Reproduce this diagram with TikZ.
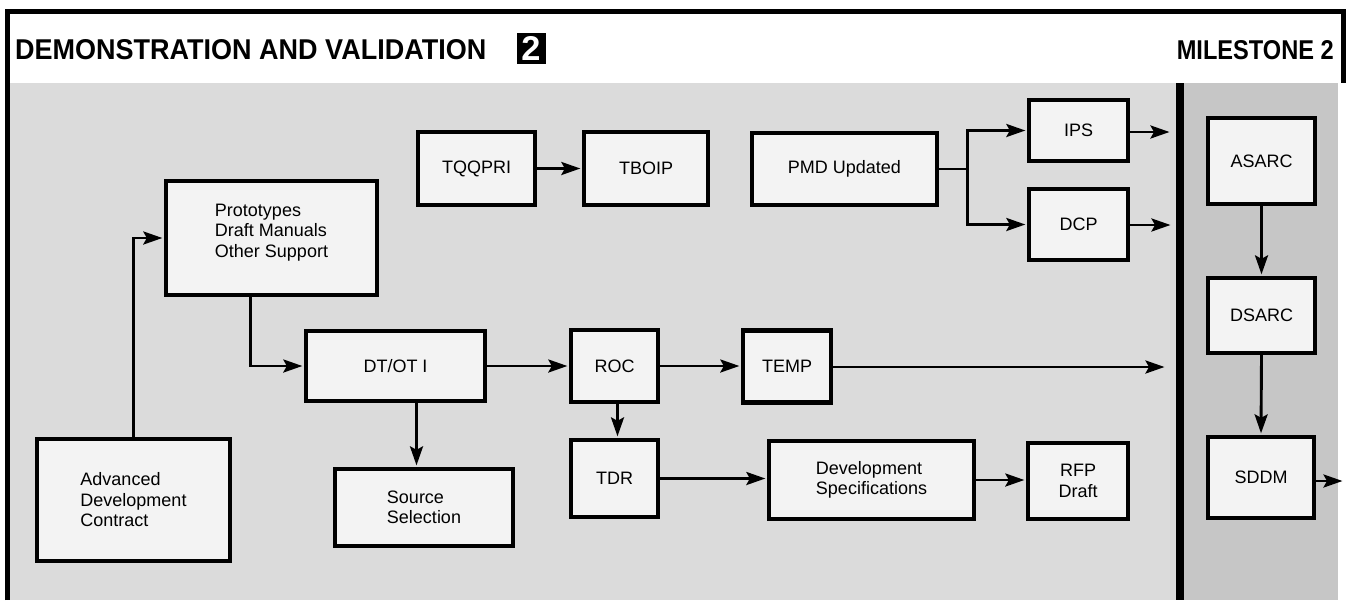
\documentclass[tikz,border=0pt]{standalone}
\usepackage{fontspec}
\setmainfont{Liberation Sans}
\usetikzlibrary{arrows.meta,calc}
\definecolor{bgleft}{HTML}{DBDBDB}
\definecolor{bgright}{HTML}{C6C6C6}
\definecolor{boxfill}{HTML}{F3F3F3}
\begin{document}
\begin{tikzpicture}[x=1pt,y=-1pt,
  box/.style={draw=black,line width=4.3pt,fill=boxfill,inner sep=0pt,
    font=\fontsize{18}{20.5}\selectfont},
  conn/.style={line width=2.9pt,shorten >=1.5pt,-{Stealth[length=19pt,width=13pt,inset=3.5pt]}},
  plain/.style={line width=2.9pt}]
\useasboundingbox (0,0) rectangle (1346,600);
\fill[white] (0,0) rectangle (1346,600);
% backgrounds
\fill[bgleft] (10,83) rectangle (1176,600);
\fill[bgright] (1184,83) rectangle (1338,600);
\fill[black] (1176,83) rectangle (1184,600);
% frame
\draw[line width=4.5pt,line join=miter] (7.5,600) -- (7.5,11.5) -- (1343.5,11.5) -- (1343.5,83);
% header
\node[anchor=west,inner sep=0pt] (title) at (15,50) {\resizebox{471pt}{20pt}{\bfseries DEMONSTRATION AND VALIDATION}};
\node[fill=black,minimum width=29pt,minimum height=31pt,inner sep=0pt,text=white] (two) at (531,48.5) {\resizebox{!}{24pt}{\bfseries 2}};
\node[anchor=east,inner sep=0pt] (ms) at (1334,50) {\resizebox{157pt}{19pt}{\bfseries MILESTONE 2}};
% boxes
\node[box,minimum width=211pt,minimum height=114pt,align=left] (proto) at (271.5,238) {Prototypes\\Draft Manuals\\Other Support\\[-6pt]\mbox{}};
\node[box,minimum width=193pt,minimum height=122pt,align=left] (adv) at (133.5,500) {Advanced\\Development\\Contract};
\node[box,minimum width=179pt,minimum height=70pt] (dtot) at (395.5,366) {DT/OT I};
\node[box,minimum width=178pt,minimum height=77pt,align=left] (src) at (424,507.5) {Source\\Selection};
\node[box,minimum width=117pt,minimum height=73pt] (tqq) at (476.5,168.5) {TQQPRI};
\node[box,minimum width=124pt,minimum height=73pt] (tboip) at (646,168.5) {TBOIP};
\node[box,minimum width=185pt,minimum height=72pt] (pmd) at (844.5,169) {PMD Updated};
\node[box,minimum width=87pt,minimum height=72pt] (roc) at (614.5,366) {ROC};
\node[box,minimum width=88pt,minimum height=72pt] (temp) at (787,366.5) {TEMP};
\node[box,minimum width=87pt,minimum height=77pt] (tdr) at (614.5,478.5) {TDR};
\node[box,minimum width=205pt,minimum height=78pt,align=left] (dev) at (871.5,480) {Development\\Specifications};
\node[box,minimum width=99pt,minimum height=61pt] (ips) at (1078.5,130.5) {IPS};
\node[box,minimum width=99pt,minimum height=71pt] (dcp) at (1078.5,224.5) {DCP};
\node[box,minimum width=100pt,minimum height=76pt,align=center] (rfp) at (1078,481) {RFP\\Draft};
\node[box,minimum width=107pt,minimum height=86pt] (asarc) at (1261.5,161) {ASARC};
\node[box,minimum width=107pt,minimum height=75pt] (dsarc) at (1261.5,315.5) {DSARC};
\node[box,minimum width=106pt,minimum height=81pt] (sddm) at (1261,477.5) {SDDM};
% free ends
\coordinate (tempend) at (1166,367);
\coordinate (ipsend) at (1171,132);
\coordinate (dcpend) at (1172,225);
\coordinate (sddmend) at (1344,481);
% connectors
\draw[conn] (adv.north) |- (proto.west);
\draw[conn] ([xshift=-21pt]proto.south) |- (dtot.west);
\draw[conn] ([xshift=21pt]dtot.south) -- ([xshift=21pt]dtot.south |- src.north);
\draw[conn] (dtot.east) -- (dtot.east -| roc.west);
\draw[conn] (roc.east) -- (roc.east -| temp.west);
\draw[conn] (temp.east |- tempend) -- (tempend);
\draw[conn] ([xshift=3pt]roc.south) -- ([xshift=3pt]tdr.north);
\draw[conn] (tdr.east) -- (tdr.east -| dev.west);
\draw[conn] (dev.east) -- (dev.east -| rfp.west);
\draw[conn] (tqq.east) -- (tqq.east -| tboip.west);
\draw[plain] (pmd.east) -- ++(28,0) coordinate (br);
\draw[conn] ([yshift=-1.45pt]br) |- (ips.west);
\draw[conn] ([yshift=1.45pt]br) |- (dcp.west);
\draw[conn] (ips.east |- ipsend) -- (ipsend);
\draw[conn] (dcp.east |- dcpend) -- (dcpend);
\draw[conn] (asarc.south) -- (dsarc.north);
\draw[conn] (dsarc.south) -- (sddm.north);
\draw[conn] (sddm.east |- sddmend) -- (sddmend);
\end{tikzpicture}
\end{document}
